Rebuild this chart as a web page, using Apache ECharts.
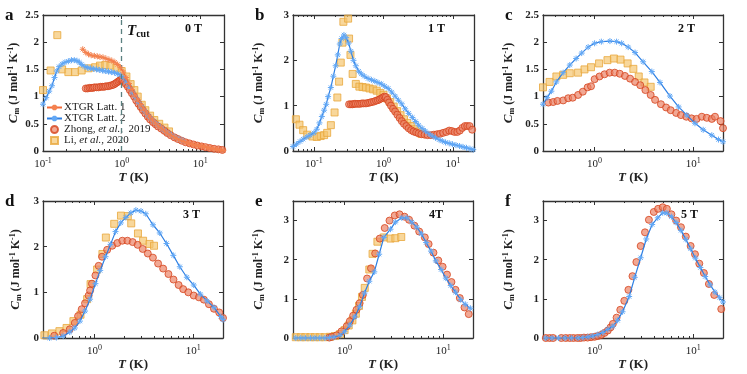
<!DOCTYPE html>
<html>
<head>
<meta charset="utf-8">
<title>Cm vs T</title>
<script src="https://cdn.jsdelivr.net/npm/echarts@6/dist/echarts.min.js"></script>
<style>
html,body{margin:0;padding:0;background:#fff;}
#chart{width:747px;height:374px;}
</style>
</head>
<body>
<div id="chart"></div>
<script>
// ---- data: [T (K), Cm (J mol^-1 K^-1)] ----
// 0 T
var latt1_0T = [[0.32,1.87],[0.35,1.81],[0.38,1.78],[0.41,1.76],[0.45,1.75],[0.49,1.74],[0.53,1.73],[0.58,1.72],[0.63,1.70],[0.69,1.68],[0.75,1.66],[0.82,1.63],[0.89,1.59],[0.97,1.53],[1.05,1.45],[1.14,1.35],[1.24,1.24],[1.35,1.13],[1.47,1.03],[1.6,0.94],[1.75,0.85],[1.9,0.77],[2.07,0.70],[2.26,0.63],[2.46,0.57],[2.68,0.51],[2.92,0.46],[3.2,0.42],[3.5,0.37],[3.8,0.33],[4.2,0.29],[4.6,0.26],[5.0,0.23],[5.5,0.20],[6.0,0.18],[6.6,0.16],[7.2,0.14],[7.9,0.12],[8.6,0.11],[9.4,0.10],[10.3,0.09],[11.3,0.08],[12.4,0.06],[13.6,0.05],[14.9,0.04],[16.3,0.03],[17.9,0.02],[19.6,0.01]];
var latt2_0T = [[0.1,0.86],[0.11,0.98],[0.12,1.10],[0.13,1.20],[0.14,1.35],[0.15,1.47],[0.16,1.55],[0.175,1.60],[0.19,1.63],[0.21,1.65],[0.23,1.67],[0.25,1.67],[0.27,1.66],[0.29,1.63],[0.31,1.59],[0.34,1.55],[0.37,1.53],[0.40,1.52],[0.44,1.51],[0.48,1.50],[0.52,1.49],[0.57,1.48],[0.62,1.47],[0.68,1.46],[0.74,1.45],[0.81,1.44],[0.88,1.42],[0.96,1.40],[1.05,1.35],[1.15,1.27],[1.26,1.17],[1.38,1.07],[1.51,0.98],[1.65,0.89],[1.8,0.81],[1.97,0.73],[2.15,0.66],[2.35,0.60],[2.57,0.54],[2.8,0.49],[3.1,0.44],[3.4,0.39],[3.7,0.35],[4.1,0.31],[4.5,0.27],[5.0,0.24],[5.5,0.21],[6.0,0.19]];
var zhong_0T = [[0.35,1.15],[0.37,1.15],[0.39,1.16],[0.41,1.16],[0.43,1.16],[0.45,1.17],[0.48,1.17],[0.51,1.17],[0.54,1.18],[0.57,1.18],[0.60,1.18],[0.63,1.19],[0.67,1.19],[0.71,1.20],[0.75,1.21],[0.79,1.22],[0.83,1.24],[0.87,1.26],[0.91,1.28],[0.95,1.30],[0.99,1.31],[1.03,1.30],[1.08,1.27],[1.13,1.23],[1.2,1.18],[1.27,1.12],[1.35,1.06],[1.44,1.0],[1.53,0.93],[1.63,0.87],[1.74,0.81],[1.86,0.75],[2.0,0.69],[2.15,0.63],[2.3,0.58],[2.5,0.53],[2.7,0.49],[2.9,0.45],[3.2,0.41],[3.5,0.37],[3.8,0.33],[4.2,0.29],[4.7,0.25],[5.2,0.22],[5.8,0.19],[6.5,0.16],[7.3,0.14],[8.2,0.12],[9.2,0.10],[10.4,0.085],[11.7,0.07],[13.2,0.055],[15,0.04],[17,0.03],[19,0.02]];
var li_0T = [[0.1,1.12],[0.125,1.48],[0.152,2.13],[0.175,1.50],[0.21,1.45],[0.255,1.45],[0.31,1.48],[0.38,1.52],[0.46,1.54],[0.53,1.57],[0.62,1.58],[0.72,1.57],[0.86,1.53],[1.0,1.47],[1.15,1.37],[1.3,1.23],[1.45,1.12],[1.6,1.0],[1.8,0.85],[2.0,0.75],[2.3,0.65],[2.6,0.57],[3.0,0.50],[3.5,0.43],[4.0,0.36]];
// 1 T
var latt2_1T = [[0.05,0.10],[0.056,0.15],[0.063,0.21],[0.07,0.26],[0.079,0.31],[0.088,0.35],[0.1,0.40],[0.11,0.48],[0.12,0.62],[0.13,0.76],[0.14,0.90],[0.15,1.03],[0.16,1.20],[0.175,1.40],[0.19,1.65],[0.205,1.88],[0.22,2.12],[0.235,2.36],[0.25,2.48],[0.27,2.56],[0.29,2.50],[0.315,2.38],[0.34,2.20],[0.37,2.00],[0.40,1.88],[0.44,1.76],[0.48,1.70],[0.53,1.65],[0.6,1.60],[0.67,1.57],[0.75,1.54],[0.83,1.51],[0.93,1.48],[1.04,1.43],[1.17,1.38],[1.31,1.30],[1.47,1.21],[1.64,1.12],[1.83,1.04],[2.05,0.93],[2.3,0.83],[2.6,0.74],[2.9,0.65],[3.2,0.57],[3.6,0.50],[4.0,0.44],[4.5,0.38],[5.0,0.33],[5.6,0.29],[6.3,0.25],[7.0,0.22],[7.8,0.19],[8.8,0.17],[9.8,0.15],[11,0.13],[12.4,0.11],[13.9,0.09],[15.6,0.07],[17.5,0.05],[19.5,0.03]];
var zhong_1T = [[0.32,1.03],[0.34,1.03],[0.36,1.03],[0.38,1.04],[0.40,1.04],[0.43,1.04],[0.46,1.04],[0.49,1.05],[0.52,1.05],[0.56,1.05],[0.6,1.06],[0.64,1.07],[0.68,1.08],[0.73,1.09],[0.78,1.11],[0.83,1.12],[0.88,1.14],[0.93,1.16],[0.98,1.18],[1.03,1.20],[1.08,1.19],[1.14,1.13],[1.2,1.07],[1.28,1.0],[1.37,0.93],[1.47,0.87],[1.58,0.80],[1.7,0.73],[1.83,0.66],[1.97,0.60],[2.13,0.55],[2.3,0.50],[2.5,0.46],[2.7,0.43],[2.95,0.41],[3.2,0.39],[3.5,0.37],[3.9,0.36],[4.3,0.35],[4.8,0.35],[5.3,0.36],[5.9,0.37],[6.5,0.38],[7.2,0.40],[8.0,0.42],[8.8,0.45],[9.6,0.44],[10.5,0.42],[11.5,0.42],[12.5,0.45],[13.6,0.51],[14.8,0.55],[16,0.55],[17.3,0.55],[18.8,0.47]];
var li_1T = [[0.055,0.70],[0.062,0.58],[0.07,0.46],[0.08,0.36],[0.095,0.32],[0.11,0.31],[0.125,0.33],[0.14,0.35],[0.155,0.40],[0.175,0.57],[0.198,0.85],[0.217,1.18],[0.23,1.53],[0.243,1.95],[0.257,2.39],[0.265,2.85],[0.31,2.92],[0.32,2.48],[0.335,2.12],[0.36,1.70],[0.40,1.48],[0.45,1.42],[0.5,1.41],[0.56,1.40],[0.63,1.38],[0.71,1.36],[0.8,1.33],[0.9,1.28],[1.0,1.24],[1.12,1.16],[1.25,1.08],[1.4,0.98],[1.57,0.88],[1.76,0.79],[1.97,0.70],[2.2,0.62],[2.47,0.55],[2.77,0.48],[3.1,0.43],[3.5,0.38]];
// 2 T
var latt2_2T = [[0.3,0.86],[0.33,0.98],[0.365,1.10],[0.41,1.27],[0.48,1.44],[0.56,1.58],[0.65,1.70],[0.74,1.80],[0.86,1.91],[1.0,1.98],[1.17,2.01],[1.43,2.02],[1.67,2.01],[1.88,1.98],[2.19,1.91],[2.57,1.81],[3.1,1.64],[3.8,1.46],[4.6,1.26],[5.8,1.01],[7.1,0.81],[8.6,0.66],[10.4,0.51],[12.6,0.39],[15.4,0.29],[18,0.21],[20,0.17]];
var zhong_2T = [[0.34,0.89],[0.38,0.90],[0.42,0.92],[0.48,0.93],[0.54,0.97],[0.60,0.98],[0.68,1.03],[0.76,1.09],[0.85,1.17],[0.92,1.19],[1.0,1.32],[1.12,1.37],[1.26,1.41],[1.42,1.44],[1.60,1.44],[1.80,1.42],[2.03,1.38],[2.29,1.33],[2.57,1.27],[2.9,1.21],[3.27,1.12],[3.7,1.03],[4.1,0.94],[4.7,0.86],[5.3,0.80],[5.9,0.75],[6.7,0.70],[7.5,0.66],[8.5,0.63],[9.6,0.60],[10.8,0.59],[12.2,0.63],[13.7,0.61],[15.4,0.59],[16.6,0.63],[18.9,0.55],[20,0.42]];
var li_2T = [[0.3,1.17],[0.35,1.27],[0.41,1.37],[0.48,1.40],[0.56,1.43],[0.68,1.44],[0.79,1.50],[0.92,1.54],[1.11,1.61],[1.35,1.67],[1.57,1.70],[1.83,1.68],[2.16,1.61],[2.47,1.51],[2.8,1.37],[3.2,1.26],[3.7,1.18]];
// 3 T
var latt2_3T = [[0.29,0],[0.35,0],[0.41,0.01],[0.48,0.04],[0.56,0.13],[0.63,0.22],[0.71,0.37],[0.8,0.59],[0.9,0.85],[1.02,1.19],[1.14,1.48],[1.29,1.78],[1.45,2.05],[1.63,2.33],[1.84,2.52],[2.07,2.64],[2.33,2.74],[2.62,2.80],[2.95,2.78],[3.3,2.72],[3.9,2.48],[4.57,2.30],[5.35,2.07],[6.27,1.81],[7.3,1.56],[8.6,1.33],[10.1,1.16],[11.8,0.96],[13.8,0.81],[16.2,0.67],[19,0.47],[20,0.40]];
var zhong_3T = [[0.39,0.05],[0.48,0.11],[0.56,0.19],[0.63,0.33],[0.68,0.48],[0.74,0.63],[0.80,0.76],[0.87,0.93],[0.9,1.04],[0.94,1.19],[1.02,1.37],[1.1,1.58],[1.19,1.78],[1.34,1.93],[1.51,2.02],[1.70,2.08],[1.91,2.13],[2.15,2.13],[2.43,2.10],[2.73,2.04],[3.07,1.95],[3.46,1.85],[3.9,1.76],[4.4,1.63],[4.95,1.52],[5.6,1.40],[6.3,1.28],[7.1,1.16],[7.9,1.07],[8.9,1.0],[10.1,0.93],[11.4,0.89],[12.8,0.84],[14.4,0.74],[16.2,0.64],[18.3,0.56],[20,0.44]];
var li_3T = [[0.28,0.06],[0.31,0.06],[0.37,0.10],[0.44,0.15],[0.52,0.22],[0.61,0.37],[0.72,0.51],[0.84,0.85],[0.91,1.18],[1.06,1.50],[1.2,1.84],[1.3,2.2],[1.58,2.5],[1.85,2.68],[2.17,2.67],[2.35,2.51],[2.75,2.29],[3.1,2.13],[3.6,2.06],[4.0,2.02]];
// 4 T
var latt2_4T = [[0.32,0],[0.36,0],[0.4,0],[0.45,0],[0.5,0],[0.56,0],[0.63,0],[0.7,0.01],[0.78,0.02],[0.9,0.07],[1.0,0.16],[1.13,0.33],[1.27,0.54],[1.42,0.80],[1.59,1.15],[1.78,1.45],[2.0,1.69],[2.24,2.14],[2.5,2.57],[2.92,2.78],[3.27,2.96],[3.8,3.07],[4.27,3.07],[4.8,2.96],[5.4,2.83],[6.0,2.66],[6.7,2.44],[7.5,2.22],[8.4,1.97],[9.5,1.75],[10.6,1.53],[11.9,1.34],[13.3,1.17],[15.0,0.98],[16.7,0.86],[18.8,0.76]];
var zhong_4T = [[0.7,0.01],[0.74,0.03],[0.83,0.07],[0.93,0.17],[1.05,0.30],[1.13,0.43],[1.22,0.57],[1.32,0.72],[1.42,0.89],[1.53,1.10],[1.69,1.52],[1.85,1.78],[2.04,2.16],[2.27,2.54],[2.55,2.81],[2.85,3.0],[3.22,3.13],[3.6,3.16],[4.05,3.10],[4.5,3.02],[5.1,2.87],[5.7,2.72],[6.5,2.57],[7.1,2.40],[7.95,2.18],[8.9,1.98],[9.85,1.82],[10.9,1.62],[12.1,1.43],[13.3,1.23],[14.7,1.02],[16.4,0.78],[18.1,0.61]];
var li_4T = [[0.32,0.02],[0.36,0.02],[0.4,0.02],[0.45,0.02],[0.5,0.02],[0.56,0.02],[0.63,0.02],[0.71,0.03],[0.8,0.05],[0.9,0.1],[1.0,0.2],[1.1,0.32],[1.2,0.45],[1.3,0.62],[1.4,0.82],[1.5,1.05],[1.6,1.28],[1.78,1.75],[1.92,2.15],[2.15,2.46],[2.5,2.57],[2.92,2.54],[3.27,2.55],[3.75,2.58]];
// 5 T
var latt2_5T = [[0.32,0],[0.37,0],[0.43,0],[0.5,0],[0.58,0],[0.68,0],[0.76,0.01],[0.86,0.03],[0.96,0.05],[1.08,0.09],[1.21,0.14],[1.36,0.22],[1.53,0.30],[1.71,0.45],[1.92,0.67],[2.24,1.06],[2.55,1.55],[2.93,2.05],[3.34,2.53],[3.83,2.90],[4.36,3.07],[4.9,3.20],[5.4,3.19],[6.0,3.10],[6.7,2.95],[7.5,2.75],[8.4,2.52],[9.4,2.28],[10.5,2.04],[11.8,1.80],[13.2,1.57],[14.8,1.36],[16.6,1.17],[18.5,1.03],[20,0.92]];
var zhong_5T = [[0.32,0],[0.35,0],[0.38,0],[0.46,0],[0.51,0],[0.56,0],[0.61,0],[0.67,0],[0.72,0],[0.78,0.01],[0.85,0.01],[0.92,0.02],[1.0,0.03],[1.08,0.05],[1.17,0.08],[1.26,0.13],[1.36,0.19],[1.45,0.27],[1.53,0.36],[1.67,0.52],[1.82,0.72],[2.0,0.95],[2.2,1.23],[2.42,1.58],[2.65,1.94],[2.93,2.35],[3.24,2.70],[3.55,3.02],[3.98,3.22],[4.4,3.30],[4.9,3.34],[5.4,3.30],[6.0,3.16],[6.7,3.0],[7.5,2.83],[8.4,2.59],[9.4,2.35],[10.4,2.14],[11.5,1.90],[12.8,1.66],[14.4,1.38],[16.3,1.10],[19.2,0.74]];

var T_CUT = 1;
var xLabelTicks = [0.1, 1, 10];
var xMinorMult = [2, 3, 4, 5, 6, 7, 8, 9];

var FONT = '"Liberation Serif", "Times New Roman", serif';
var AXIS_COLOR = '#333';
var STAR = 'path://M5,0L5,10M0,5L10,5M1.46,1.46L8.54,8.54M1.46,8.54L8.54,1.46';

var KIND = {
	latt1: { name: 'XTGR Latt. 1', type: 'line', symbol: STAR, size: 6, line: '#f26b3a', mark: '#f4824f', fill: '#f4824f', z: 5 },
	latt2: { name: 'XTGR Latt. 2', type: 'line', symbol: STAR, size: 6, line: '#2d7fe3', mark: '#62a8f6', fill: '#62a8f6', z: 4 },
	zhong: { name: 'Zhong, et al.,  2019', type: 'scatter', symbol: 'circle', size: 7, mark: '#d6441d', fill: 'rgba(234,128,98,0.85)', z: 3 },
	li:    { name: 'Li, et al., 2020', type: 'scatter', symbol: 'rect', size: 7, mark: '#e9a73c', fill: 'rgba(245,196,108,0.85)', z: 2 }
};

var PANELS = [
	{ letter: 'a', field: '0 T', fx: 202, grid: { left: 43, top: 15, width: 181, height: 136 }, tMin: 0.1, tMax: 20, cMax: 2.5, cTicks: [0, 0.5, 1, 1.5, 2, 2.5], nameGap: 22,
	  sets: [['li', li_0T], ['zhong', zhong_0T], ['latt2', latt2_0T], ['latt1', latt1_0T]] },
	{ letter: 'b', field: '1 T', fx: 445, grid: { left: 293, top: 15, width: 181, height: 136 }, tMin: 0.05, tMax: 20, cMax: 3, cTicks: [0, 1, 2, 3], nameGap: 27,
	  sets: [['li', li_1T], ['zhong', zhong_1T], ['latt2', latt2_1T]] },
	{ letter: 'c', field: '2 T', fx: 695, grid: { left: 543, top: 15, width: 180, height: 136 }, tMin: 0.3, tMax: 20, cMax: 2.5, cTicks: [0, 0.5, 1, 1.5, 2, 2.5], nameGap: 27,
	  sets: [['li', li_2T], ['zhong', zhong_2T], ['latt2', latt2_2T]] },
	{ letter: 'd', field: '3 T', fx: 200, grid: { left: 43, top: 201, width: 180, height: 137 }, tMin: 0.3, tMax: 20, cMax: 3, cTicks: [0, 1, 2, 3], nameGap: 20,
	  sets: [['li', li_3T], ['zhong', zhong_3T], ['latt2', latt2_3T]] },
	{ letter: 'e', field: '4T', fx: 443, grid: { left: 293, top: 201, width: 180, height: 137 }, tMin: 0.3, tMax: 20, cMax: 3.5, cTicks: [0, 1, 2, 3], nameGap: 27,
	  sets: [['li', li_4T], ['zhong', zhong_4T], ['latt2', latt2_4T]] },
	{ letter: 'f', field: '5 T', fx: 698, grid: { left: 543, top: 201, width: 180, height: 137 }, tMin: 0.3, tMax: 20, cMax: 3.5, cTicks: [0, 1, 2, 3], nameGap: 27,
	  sets: [['zhong', zhong_5T], ['latt2', latt2_5T]] }
];

function majorLog(p) {
	return xLabelTicks.filter(function (v) { return v >= p.tMin * 0.999 && v <= p.tMax * 1.001; })
		.map(function (v) { return Math.round(Math.log10(v)); });
}
function minorLog(p) {
	var out = [];
	[0.01, 0.1, 1, 10].forEach(function (d) {
		xMinorMult.forEach(function (m) {
			var v = m * d;
			if (v > p.tMin && v < p.tMax) out.push(Math.log10(v));
		});
	});
	return out;
}

var grids = [], xAxes = [], yAxes = [], series = [], graphics = [];
var frameLine = { show: true, onZero: false, lineStyle: { color: AXIS_COLOR, width: 1.3 } };
var noLine = { show: false, onZero: false };

PANELS.forEach(function (p, i) {
	grids.push({ left: p.grid.left, top: p.grid.top, width: p.grid.width, height: p.grid.height });
	var lo = Math.log10(p.tMin), hi = Math.log10(p.tMax);
	var base = { gridIndex: i, type: 'value', min: lo, max: hi, splitLine: { show: false } };
	// bottom, with labels
	xAxes.push(Object.assign({}, base, {
		position: 'bottom', axisLine: frameLine,
		axisTick: { show: true, inside: true, length: 4, customValues: majorLog(p), lineStyle: { color: AXIS_COLOR } },
		axisLabel: {
			show: true, customValues: majorLog(p), margin: 6, color: '#222', fontFamily: FONT, fontSize: 11,
			formatter: function (v) { return '10{sup|' + Math.round(v) + '}'; },
			rich: { sup: { fontFamily: FONT, fontSize: 8, color: '#222', padding: [0, 0, 7, 0] } }
		},
		name: '{it|T} (K)', nameLocation: 'middle', nameGap: 19,
		nameTextStyle: { fontFamily: FONT, fontSize: 13, fontWeight: 'bold', color: '#222',
			rich: { it: { fontFamily: FONT, fontSize: 13, fontWeight: 'bold', fontStyle: 'italic', color: '#222' } } }
	}));
	// bottom minor ticks
	xAxes.push(Object.assign({}, base, {
		position: 'bottom', axisLine: noLine, axisLabel: { show: false },
		axisTick: { show: true, inside: true, length: 2, customValues: minorLog(p), lineStyle: { color: AXIS_COLOR } }
	}));
	// top frame + ticks
	xAxes.push(Object.assign({}, base, {
		position: 'top', axisLabel: { show: false }, axisLine: frameLine,
		axisTick: { show: true, inside: true, length: 4, customValues: majorLog(p), lineStyle: { color: AXIS_COLOR } }
	}));
	xAxes.push(Object.assign({}, base, {
		position: 'top', axisLine: noLine, axisLabel: { show: false },
		axisTick: { show: true, inside: true, length: 2, customValues: minorLog(p), lineStyle: { color: AXIS_COLOR } }
	}));

	var ybase = { gridIndex: i, type: 'value', min: 0, max: p.cMax, splitLine: { show: false } };
	yAxes.push(Object.assign({}, ybase, {
		position: 'left', axisLine: frameLine,
		axisTick: { show: true, inside: true, length: 4, customValues: p.cTicks, lineStyle: { color: AXIS_COLOR } },
		axisLabel: { show: true, customValues: p.cTicks, margin: 4, color: '#222', fontFamily: FONT, fontSize: 11, fontWeight: 'bold' },
		name: '{c|C}{sub|m} (J mol{sup|-1} K{sup|-1})', nameLocation: 'middle', nameRotate: 90, nameGap: p.nameGap,
		nameTextStyle: { fontFamily: FONT, fontSize: 12, fontWeight: 'bold', color: '#222',
			rich: {
				c: { fontFamily: FONT, fontSize: 13, fontWeight: 'bold', fontStyle: 'italic', color: '#222' },
				sub: { fontFamily: FONT, fontSize: 8, fontWeight: 'bold', color: '#222', padding: [6, 0, 0, 0] },
				sup: { fontFamily: FONT, fontSize: 8, fontWeight: 'bold', color: '#222', padding: [0, 0, 6, 0] }
			} }
	}));
	yAxes.push(Object.assign({}, ybase, {
		position: 'right', axisLabel: { show: false }, axisLine: frameLine,
		axisTick: { show: true, inside: true, length: 4, customValues: p.cTicks, lineStyle: { color: AXIS_COLOR } }
	}));

	p.sets.forEach(function (s) {
		var k = KIND[s[0]];
		var item = {
			name: k.name, type: k.type, xAxisIndex: i * 4, yAxisIndex: i * 2, z: k.z,
			data: s[1].map(function (d) { return [Math.log10(d[0]), d[1]]; }),
			symbol: k.symbol, symbolSize: k.size,
			itemStyle: { color: k.fill, borderColor: k.mark, borderWidth: 1 }
		};
		if (k.type === 'line') {
			item.showSymbol = true;
			item.lineStyle = { color: k.line, width: 1.2 };
		}
		if (p.letter === 'a' && s[0] === 'latt1') {
			item.markLine = {
				silent: true, symbol: ['none', 'none'], label: { show: false },
				lineStyle: { type: [5, 4], color: '#5b8080', width: 1.3 },
				data: [{ xAxis: Math.log10(T_CUT) }]
			};
		}
		series.push(item);
	});

	graphics.push({
		type: 'text', x: p.grid.left - 38, y: p.grid.top + 1,
		style: { text: p.letter, fontFamily: FONT, fontSize: 17, fontWeight: 'bold', fill: '#111', verticalAlign: 'middle' }
	});
	graphics.push({
		type: 'text', x: p.fx, y: p.grid.top + 14,
		style: { text: p.field, fontFamily: FONT, fontSize: 12, fontWeight: 'bold', fill: '#111', align: 'right', verticalAlign: 'middle' }
	});
});

graphics.push({
	type: 'text', x: 127, y: 31,
	style: {
		text: '{t|T}{s|cut}', verticalAlign: 'middle',
		rich: {
			t: { fontFamily: FONT, fontSize: 15, fontWeight: 'bold', fontStyle: 'italic', fill: '#111' },
			s: { fontFamily: FONT, fontSize: 10, fontWeight: 'bold', fill: '#111', padding: [7, 0, 0, 0] }
		}
	}
});

var chart = echarts.init(document.getElementById('chart'));
chart.setOption({
	animation: false,
	backgroundColor: '#fff',
	grid: grids,
	xAxis: xAxes,
	yAxis: yAxes,
	legend: {
		data: [
			{ name: KIND.latt1.name },
			{ name: KIND.latt2.name },
			{ name: KIND.zhong.name, icon: 'circle' },
			{ name: KIND.li.name, icon: 'path://M0,0H10V10H0Z' }
		],
		orient: 'vertical', left: 46, top: 102, padding: 0, itemWidth: 15, itemHeight: 7, itemGap: 0,
		selectedMode: false, symbolKeepAspect: true,
		textStyle: {
			fontFamily: FONT, fontSize: 11, color: '#222', lineHeight: 10.5, padding: [0, 0, 0, -3],
			rich: { i: { fontFamily: FONT, fontSize: 11, fontStyle: 'italic', color: '#222', lineHeight: 10.5 } }
		},
		formatter: function (n) { return n.replace('et al.', '{i|et al.}'); }
	},
	graphic: graphics,
	series: series
});
</script>
</body>
</html>
